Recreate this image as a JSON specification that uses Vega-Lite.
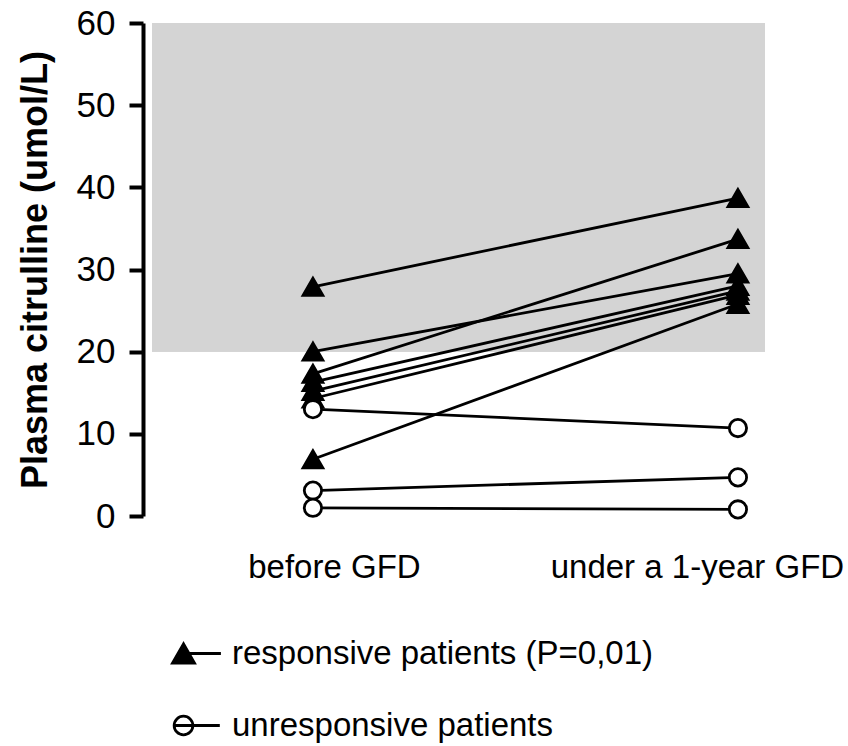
{
  "$schema": "https://vega.github.io/schema/vega-lite/v6.json",
  "width": 613,
  "height": 493,
  "autosize": "none",
  "padding": {"left": 152, "top": 23, "right": 83, "bottom": 230},
  "background": "white",
  "config": {"view": {"stroke": null}, "font": "Liberation Sans"},
  "data": {
    "values": [
      {"patient": "R1", "group": "responsive patients (P=0,01)", "phase": "before GFD", "citrulline": 27.9},
      {"patient": "R1", "group": "responsive patients (P=0,01)", "phase": "under a 1-year GFD", "citrulline": 38.7},
      {"patient": "R2", "group": "responsive patients (P=0,01)", "phase": "before GFD", "citrulline": 20.0},
      {"patient": "R2", "group": "responsive patients (P=0,01)", "phase": "under a 1-year GFD", "citrulline": 29.5},
      {"patient": "R3", "group": "responsive patients (P=0,01)", "phase": "before GFD", "citrulline": 17.3},
      {"patient": "R3", "group": "responsive patients (P=0,01)", "phase": "under a 1-year GFD", "citrulline": 33.7},
      {"patient": "R4", "group": "responsive patients (P=0,01)", "phase": "before GFD", "citrulline": 16.3},
      {"patient": "R4", "group": "responsive patients (P=0,01)", "phase": "under a 1-year GFD", "citrulline": 28.0},
      {"patient": "R5", "group": "responsive patients (P=0,01)", "phase": "before GFD", "citrulline": 15.2},
      {"patient": "R5", "group": "responsive patients (P=0,01)", "phase": "under a 1-year GFD", "citrulline": 27.4},
      {"patient": "R6", "group": "responsive patients (P=0,01)", "phase": "before GFD", "citrulline": 14.3},
      {"patient": "R6", "group": "responsive patients (P=0,01)", "phase": "under a 1-year GFD", "citrulline": 26.9},
      {"patient": "R7", "group": "responsive patients (P=0,01)", "phase": "before GFD", "citrulline": 6.9},
      {"patient": "R7", "group": "responsive patients (P=0,01)", "phase": "under a 1-year GFD", "citrulline": 25.8},
      {"patient": "U1", "group": "unresponsive patients", "phase": "before GFD", "citrulline": 13.0},
      {"patient": "U1", "group": "unresponsive patients", "phase": "under a 1-year GFD", "citrulline": 10.7},
      {"patient": "U2", "group": "unresponsive patients", "phase": "before GFD", "citrulline": 3.1},
      {"patient": "U2", "group": "unresponsive patients", "phase": "under a 1-year GFD", "citrulline": 4.7},
      {"patient": "U3", "group": "unresponsive patients", "phase": "before GFD", "citrulline": 1.0},
      {"patient": "U3", "group": "unresponsive patients", "phase": "under a 1-year GFD", "citrulline": 0.8}
    ]
  },
  "layer": [
    {
      "mark": {"type": "rect", "color": "#d4d4d4"},
      "encoding": {
        "y": {"datum": 20, "type": "quantitative", "scale": {"domain": [0, 60], "nice": false}},
        "y2": {"datum": 60}
      }
    },
    {
      "mark": {"type": "line", "color": "black", "strokeWidth": 2.8},
      "encoding": {
        "x": {"field": "phase", "type": "ordinal", "scale": {"type": "point", "domain": ["before GFD", "under a 1-year GFD"], "padding": 0.2212, "align": 0.856},
          "axis": {"title": null, "domain": false, "ticks": false, "tickSize": 0, "labelFontSize": 33, "labelColor": "black", "labelPadding": 35, "labelAngle": 0, "labelLimit": 500,
            "labelOffset": {"condition": {"test": "datum.value === 'before GFD'", "value": 21}, "value": -41}}},
        "y": {"field": "citrulline", "type": "quantitative", "scale": {"domain": [0, 60], "nice": false},
          "axis": {"title": "Plasma citrulline (umol/L)", "titleFontSize": 36, "titleFontWeight": "bold", "titleColor": "black", "titlePadding": 22,
            "values": [0, 10, 20, 30, 40, 50, 60], "grid": false, "offset": 9, "domainColor": "black", "domainWidth": 4, "tickColor": "black", "tickWidth": 4, "tickSize": 14,
            "labelFontSize": 35, "labelColor": "black", "labelPadding": 14}},
        "detail": {"field": "patient"}
      }
    },
    {
      "mark": {"type": "point", "filled": true, "stroke": "black", "strokeWidth": 2.8, "opacity": 1},
      "encoding": {
        "x": {"field": "phase", "type": "ordinal"},
        "y": {"field": "citrulline", "type": "quantitative"},
        "fill": {"condition": {"test": "datum.group === 'responsive patients (P=0,01)'", "value": "black"}, "value": "white"},
        "size": {"condition": {"test": "datum.group === 'responsive patients (P=0,01)'", "value": 390}, "value": 300},
        "shape": {"condition": {"test": "datum.group === 'responsive patients (P=0,01)'", "value": "triangle-up"}, "value": "circle"}
      }
    },
    {
      "mark": {"type": "point", "filled": true, "opacity": 0, "strokeWidth": 2.8, "size": 484},
      "encoding": {
        "x": {"field": "phase", "type": "ordinal"},
        "y": {"field": "citrulline", "type": "quantitative"},
        "fill": {"field": "group", "type": "nominal", "scale": {"range": ["black", "white"]},
          "legend": {"orient": "none", "legendX": 15, "legendY": 614, "title": null, "direction": "vertical",
            "labelFontSize": 33, "labelColor": "black", "labelLimit": 700, "symbolSize": 484, "labelOffset": 32, "rowPadding": 38,
            "symbolStrokeWidth": 2.8, "symbolOpacity": 1}},
        "stroke": {"field": "group", "type": "nominal", "scale": {"range": ["black", "black"]},
          "legend": {"orient": "none", "legendX": 15, "legendY": 614, "title": null, "direction": "vertical",
            "labelFontSize": 33, "labelColor": "black", "labelLimit": 700, "symbolSize": 484, "labelOffset": 32, "rowPadding": 38,
            "symbolStrokeWidth": 2.8, "symbolOpacity": 1}},
        "shape": {"field": "group", "type": "nominal",
          "scale": {"range": ["M0,-0.87L-1,0.87L1,0.87Z M0,0L3.4,0", "M-0.85,0A0.85,0.85 0 1,1 0.85,0A0.85,0.85 0 1,1 -0.85,0Z M-0.85,0L3.3,0"]},
          "legend": {"orient": "none", "legendX": 15, "legendY": 614, "title": null, "direction": "vertical",
            "labelFontSize": 33, "labelColor": "black", "labelLimit": 700, "symbolSize": 484, "labelOffset": 32, "rowPadding": 38,
            "symbolStrokeWidth": 2.8, "symbolOpacity": 1}}
      }
    }
  ]
}
